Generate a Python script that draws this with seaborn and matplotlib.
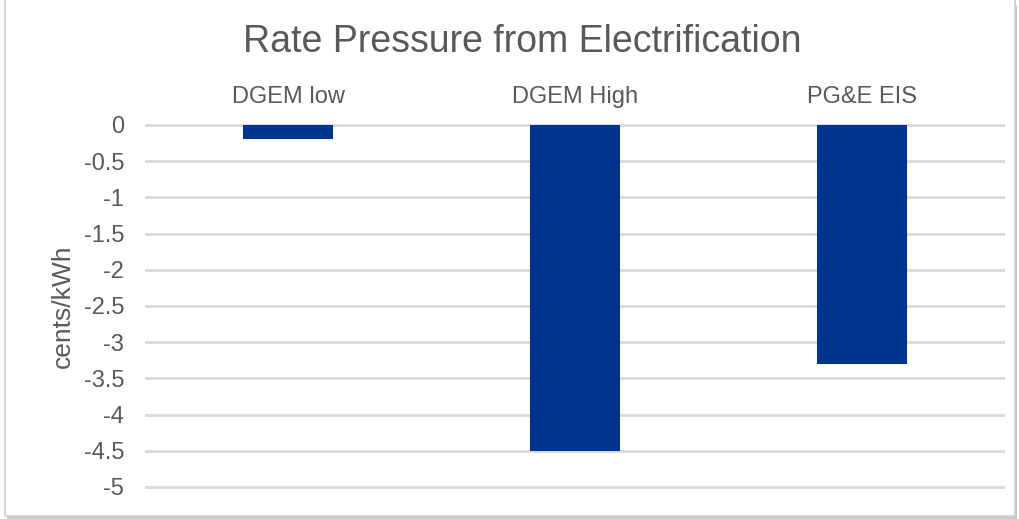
import matplotlib
matplotlib.use("Agg")
import matplotlib.pyplot as plt
from matplotlib.patches import Rectangle
import seaborn as sns
import pandas as pd

# Rate impact of electrification scenarios (cents/kWh)
scenarios = ["DGEM low", "DGEM High", "PG&E EIS"]
rate_change = [-0.2, -4.5, -3.3]
y_ticks = [0, -0.5, -1, -1.5, -2, -2.5, -3, -3.5, -4, -4.5, -5]
y_tick_labels = ["0", "-0.5", "-1", "-1.5", "-2", "-2.5", "-3", "-3.5", "-4", "-4.5", "-5"]

df = pd.DataFrame({"scenario": scenarios, "rate": rate_change})

sns.set_theme(style="white")
plt.rcParams["font.family"] = ["Liberation Sans", "DejaVu Sans"]

W, H = 1019, 519
fig = plt.figure(figsize=(W / 100, H / 100), dpi=100)

# chart frame with a soft shadow, kept behind the axes
fig.patches.append(Rectangle((7 / W, 0 / H), 1010 / W, 514 / H, transform=fig.transFigure,
                             facecolor="#c8c8c8", edgecolor="none", zorder=-2))
fig.patches.append(Rectangle((5 / W, 3 / H), 1010 / W, 520 / H, transform=fig.transFigure,
                             facecolor="white", edgecolor="#d0d0d0", linewidth=1.2, zorder=-1))

ymin, ymax = -5.1, 0.1
px_per_unit = 72.4
top_px = 125 - (ymax - 0) * px_per_unit
bot_px = 487 + (-5 - ymin) * px_per_unit
ax = fig.add_axes([145 / W, 1 - bot_px / H, 860 / W, (bot_px - top_px) / H])
ax.set_facecolor("none")

sns.barplot(data=df, x="scenario", y="rate", color="#00338D", width=0.314,
            saturation=1, linewidth=0, ax=ax, zorder=3)

ax.set_ylim(ymin, ymax)
ax.set_xlim(-0.5, 2.5)
ax.set_yticks(y_ticks)
ax.set_yticklabels(y_tick_labels)
ax.yaxis.grid(True, color="#d9d9d9", linewidth=2)
ax.set_axisbelow(True)
for s in ax.spines.values():
    s.set_visible(False)

ax.xaxis.tick_top()
ax.tick_params(axis="x", top=False, bottom=False, labeltop=True, labelbottom=False,
               length=0, pad=7, labelsize=17, labelcolor="#595959")
ax.tick_params(axis="y", left=False, length=0, pad=15, labelsize=17, labelcolor="#595959")
ax.set_xlabel("")
ax.set_ylabel("cents/kWh", fontsize=19, color="#595959")
ax.yaxis.set_label_coords(-0.082, 0.5)

fig.text(522 / W, 1 - 42 / H, "Rate Pressure from Electrification", ha="center", va="center",
         fontsize=27, color="#595959")

fig.savefig("out.png", dpi=100)
